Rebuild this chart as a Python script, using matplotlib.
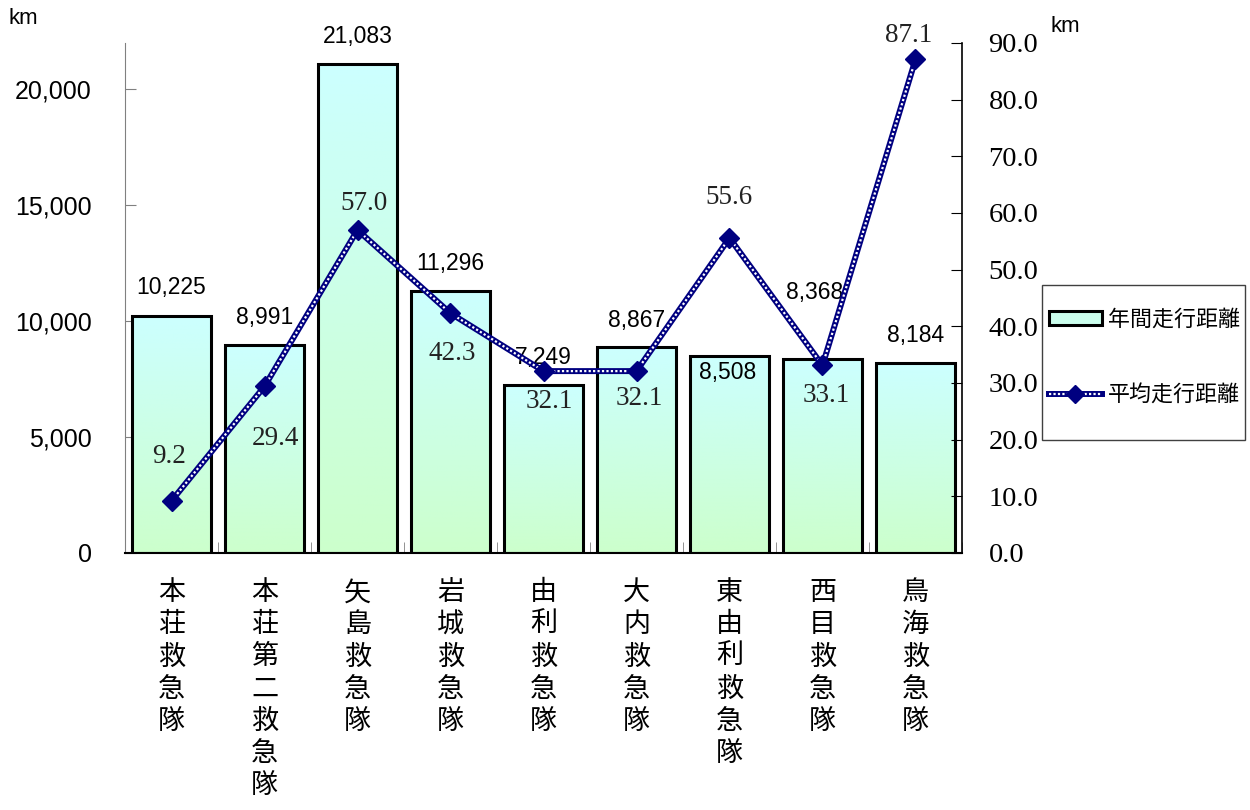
import numpy as np
import matplotlib
matplotlib.use("Agg")
import matplotlib.pyplot as plt
from matplotlib.patches import Patch, Rectangle
from matplotlib.lines import Line2D
from matplotlib.colors import LinearSegmentedColormap

# ---- data ----
categories = ["本荘救急隊", "本荘第二救急隊", "矢島救急隊", "岩城救急隊", "由利救急隊",
              "大内救急隊", "東由利救急隊", "西目救急隊", "鳥海救急隊"]
annual_km = [10225, 8991, 21083, 11296, 7249, 8867, 8508, 8368, 8184]
average_km = [9.2, 29.4, 57.0, 42.3, 32.1, 32.1, 55.6, 33.1, 87.1]
left_ticks = [0, 5000, 10000, 15000, 20000]
right_ticks = [0, 10, 20, 30, 40, 50, 60, 70, 80, 90]
legend_labels = ["年間走行距離", "平均走行距離"]
unit = "km"

# ---- label offsets (px) ----
bar_lbl_off = [(0, -28), (0, -27), (0, -28), (0, -28), (0, -27),
               (0, -27), (-2, 17), (-8, -67), (0, -28)]
line_lbl_off = [(-2, -44), (11, 52), (7, -27), (2, 40), (6, 30),
                (3, 27), (0, -40), (4, 30), (-7, -24)]

PX = 0.72  # px -> points at dpi 100

CJK = ["Noto Sans CJK JP", "DejaVu Sans"]
SANS = "Liberation Sans"
SERIF = "Liberation Serif"

fig = plt.figure(figsize=(12.5, 8.1), dpi=100)
L, R, B, T = 125, 962, 553, 43
ax = fig.add_axes([L / 1250, 1 - B / 810, (R - L) / 1250, (B - T) / 810])
ax2 = ax.twinx()

x = np.arange(len(categories))
w = 0.85

cmap = LinearSegmentedColormap.from_list("g", ["#ccffcc", "#ccffff"])
grad = np.linspace(0, 1, 256).reshape(-1, 1)
bars = ax.bar(x, annual_km, width=w, facecolor="none", edgecolor="black",
              linewidth=2.2, zorder=3)
for b in bars:
    bx, by = b.get_x(), b.get_y()
    bw, bh = b.get_width(), b.get_height()
    im = ax.imshow(grad, extent=[bx, bx + bw, by, by + bh], origin="lower",
                   aspect="auto", cmap=cmap, zorder=2)
    im.set_clip_path(b)

ax.set_xlim(-0.5, len(categories) - 0.5)
ax.set_ylim(0, 22000)
ax2.set_ylim(0, 90)

# bar labels
for xi, v, (dx, dy) in zip(x, annual_km, bar_lbl_off):
    ax.annotate(f"{v:,}", (xi, v), xytext=(dx * PX, -dy * PX),
                textcoords="offset points", ha="center", va="center",
                fontsize=16.5, family=SANS, zorder=5)

# line
ax2.plot(x, average_km, color="#000080", lw=4.3, zorder=4, solid_capstyle="butt")
ax2.plot(x, average_km, color="white", lw=1.6, ls=(0, (1, 1)), zorder=4.5)
ax2.plot(x, average_km, ls="none", marker="D", ms=10.5, color="#000080", zorder=5)

for xi, v, (dx, dy) in zip(x, average_km, line_lbl_off):
    ax2.annotate(f"{v:.1f}", (xi, v), xytext=(dx * PX, -dy * PX),
                 textcoords="offset points", ha="center", va="center",
                 fontsize=19.5, family=SERIF, color="#222222", zorder=6)

# axes styling
ax.set_yticks(left_ticks)
ax.set_yticklabels([f"{t:,}" for t in left_ticks], family=SANS, fontsize=18)
ax.tick_params(axis="y", direction="in", length=8, color="#808080", pad=24)
ax2.set_yticks(right_ticks)
ax2.set_yticklabels([f"{t:.1f}" for t in right_ticks], family=SERIF, fontsize=20.5)
ax2.tick_params(axis="y", direction="in", length=8, color="black", pad=19)

ax.set_xticks(x)
ax.set_xticklabels(["\n".join(c) for c in categories], family=CJK, fontsize=19.5,
                   va="top", linespacing=1.24)
ax.tick_params(axis="x", which="major", length=0, pad=19)
ax.set_xticks(np.arange(-0.5, len(categories), 1), minor=True)
ax.tick_params(axis="x", which="minor", direction="in", length=8, color="#808080")

for s in ["top", "right"]:
    ax.spines[s].set_visible(False)
for s in ["top", "left", "bottom"]:
    ax2.spines[s].set_visible(False)
ax.spines["left"].set_color("#808080")
ax.spines["bottom"].set_color("black")
ax.spines["bottom"].set_linewidth(1.5)
ax2.spines["right"].set_color("black")
ax2.spines["right"].set_linewidth(1.2)

# unit labels
fig.text(23 / 1250, 1 - 19 / 810, unit, ha="center", va="center", fontsize=16, family=SANS)
fig.text(1065 / 1250, 1 - 27 / 810, unit, ha="center", va="center", fontsize=16, family=SANS)

# legend
h_bar = Patch(facecolor="#ccffee", edgecolor="black", linewidth=2.2)
h_l1 = Line2D([], [], color="#000080", lw=4.3)
h_l2 = Line2D([], [], color="white", lw=1.6, ls=(0, (1, 1)))
h_l3 = Line2D([], [], ls="none", marker="D", ms=9, color="#000080")
leg = fig.legend([h_bar, (h_l1, h_l2, h_l3)], legend_labels, loc="upper left",
                 bbox_to_anchor=(1049 / 1250, 1 - 309 / 810), frameon=False,
                 prop={"family": CJK, "size": 15.8}, handlelength=2.4,
                 handleheight=0.6, handletextpad=0.3, labelspacing=2.45,
                 borderpad=0, borderaxespad=0)
fig.patches.append(Rectangle((1042 / 1250, 1 - 440 / 810), 203 / 1250, 155 / 810,
                             transform=fig.transFigure, fill=False,
                             edgecolor="#404040", lw=1))

fig.savefig("out.png", dpi=100)
